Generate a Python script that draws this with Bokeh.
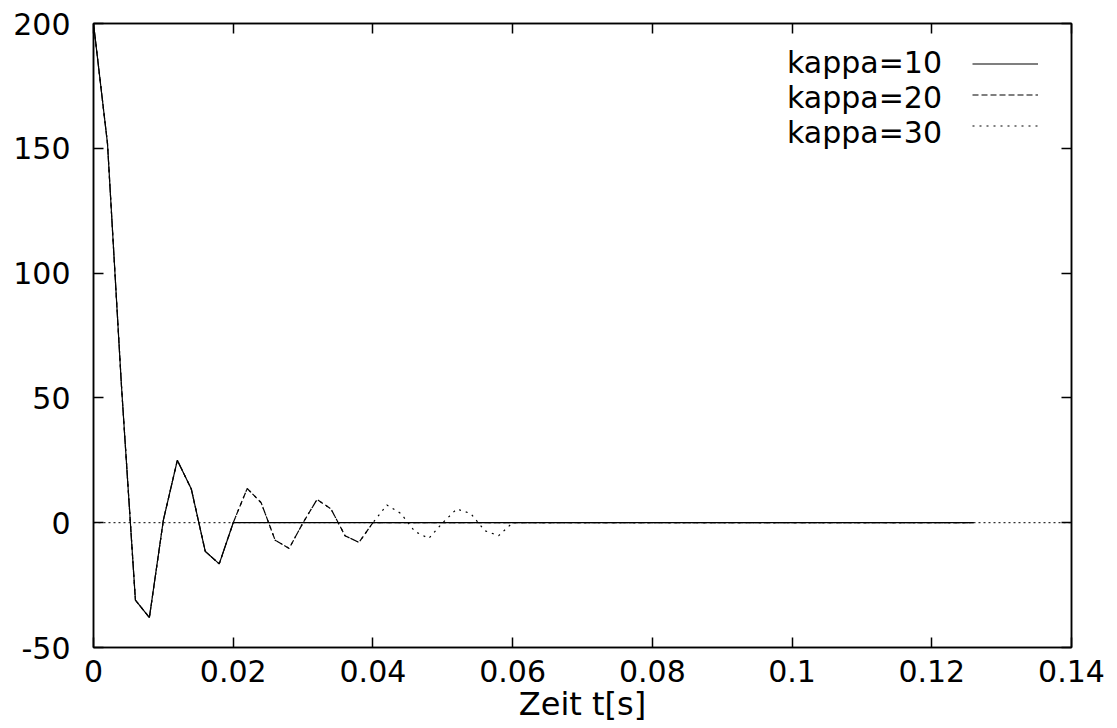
from bokeh.plotting import figure
from bokeh.models import Legend, LegendItem, Span, LinearAxis, FixedTicker, Range1d, CustomJSTickFormatter
from bokeh.core.properties import value
from bokeh.embed import file_html
from bokeh.resources import INLINE

# ---- data ----
t = [0.000, 0.002, 0.004, 0.006, 0.008, 0.010, 0.012, 0.014, 0.016, 0.018,
     0.020, 0.022, 0.024, 0.026, 0.028, 0.030, 0.032, 0.034, 0.036, 0.038,
     0.040, 0.042, 0.044, 0.046, 0.048, 0.050, 0.052, 0.054, 0.056, 0.058,
     0.060, 0.062, 0.064, 0.066, 0.068, 0.070, 0.072, 0.074, 0.076, 0.078,
     0.080, 0.082, 0.084, 0.086, 0.088, 0.090, 0.092, 0.094, 0.096, 0.098,
     0.100, 0.102, 0.104, 0.106, 0.108, 0.110, 0.112, 0.114, 0.116, 0.118,
     0.120, 0.122, 0.124, 0.126]

kappa10 = [200, 152, 55, -31, -38, 1, 25, 13.5, -11.5, -16.5] + [0.0] * 54
kappa20 = [200, 152, 55, -31, -38, 1, 25, 13.5, -11.5, -16.5,
           0, 13.7, 8, -7, -10.3, 0, 9.3, 5.5, -5.2, -7.9] + [0.0] * 44
kappa30 = [200, 152, 55, -31, -38, 1, 25, 13.5, -11.5, -16.5,
           0, 13.7, 8, -7, -10.3, 0, 9.3, 5.5, -5.2, -7.9,
           0, 7.1, 3.7, -3.5, -6.3, 0, 5.5, 3.7, -3.2, -5.2] + [0.0] * 34

series_labels = ["kappa=10", "kappa=20", "kappa=30"]

xticks = [0, 0.02, 0.04, 0.06, 0.08, 0.1, 0.12, 0.14]
xtick_labels = ["0", "0.02", "0.04", "0.06", "0.08", "0.1", "0.12", "0.14"]
yticks = [-50, 0, 50, 100, 150, 200]
ytick_labels = ["-50", "0", "50", "100", "150", "200"]
x_label = "Zeit t[s]"

FONT = "DejaVu Sans"
FS = "30px"

p = figure(frame_width=978, frame_height=624,
           min_border_left=93, min_border_right=46,
           min_border_top=23, min_border_bottom=81,
           x_range=Range1d(0, 0.14), y_range=Range1d(-50, 200),
           output_backend="svg", toolbar_location=None)
p.grid.visible = False
p.outline_line_color = "black"
p.outline_line_width = 1.5
p.background_fill_color = "white"
p.border_fill_color = "white"

def style_axis(ax):
    ax.major_tick_in = 10
    ax.major_tick_out = 0
    ax.major_tick_line_color = "black"
    ax.major_tick_line_width = 1.5
    ax.minor_tick_line_color = None
    ax.axis_line_color = "black"
    ax.axis_line_width = 1.5
    ax.major_label_text_font = FONT
    ax.major_label_text_color = "black"
    ax.major_label_text_font_size = FS

xa = p.xaxis[0]
xa.ticker = FixedTicker(ticks=xticks)
xa.major_label_overrides = {v: s for v, s in zip(xticks, xtick_labels)}
style_axis(xa)
xa.major_label_standoff = 12
xa.axis_label = x_label
xa.axis_label_text_font = FONT
xa.axis_label_text_font_size = "32px"
xa.axis_label_text_font_style = "normal"
xa.axis_label_text_color = "black"
xa.axis_label_standoff = 0

ya = p.yaxis[0]
ya.ticker = FixedTicker(ticks=yticks)
ya.major_label_overrides = {v: s for v, s in zip(yticks, ytick_labels)}
style_axis(ya)
ya.major_label_standoff = 23

# mirrored tick marks on top and right (no labels)
blank = CustomJSTickFormatter(code="return '';")
top_ax = LinearAxis(ticker=FixedTicker(ticks=xticks), formatter=blank)
style_axis(top_ax)
top_ax.major_label_standoff = 0
p.add_layout(top_ax, "above")

right_ax = LinearAxis(ticker=FixedTicker(ticks=yticks), formatter=blank)
style_axis(right_ax)
right_ax.major_label_standoff = 0
p.add_layout(right_ax, "right")

# zero axis (dotted)
zero = Span(location=0, dimension="width", line_color="black",
            line_width=1, line_dash="2 3", level="underlay")
p.add_layout(zero)

r10 = p.line(t, kappa10, line_color="black", line_width=1.2)
r20 = p.line(t, kappa20, line_color="black", line_width=1.2, line_dash="6 3")
r30 = p.line(t, kappa30, line_color="black", line_width=1.2, line_dash="2 5")
renderers = [r10, r20, r30]

# legend: texts (left) and line samples (right), gnuplot-style
leg_text = Legend(items=[LegendItem(label=s, renderers=[r]) for s, r in zip(series_labels, renderers)],
                  location=(694, 497), glyph_width=0, glyph_height=31,
                  label_height=31, label_standoff=0, spacing=0, padding=0, margin=0,
                  label_text_font=FONT, label_text_font_size=FS,
                  label_text_color="black", label_text_baseline="middle",
                  border_line_color=None, background_fill_alpha=0)
leg_line = Legend(items=[LegendItem(label=value(""), renderers=[r]) for r in renderers],
                  location=(879, 506), glyph_width=66, glyph_height=31,
                  label_height=31, label_width=0, label_standoff=0, spacing=0, padding=0, margin=0,
                  label_text_font=FONT, label_text_font_size=FS,
                  border_line_color=None, background_fill_alpha=0)
p.add_layout(leg_text)
p.add_layout(leg_line)

open("out.html", "w").write(file_html(p, INLINE))
